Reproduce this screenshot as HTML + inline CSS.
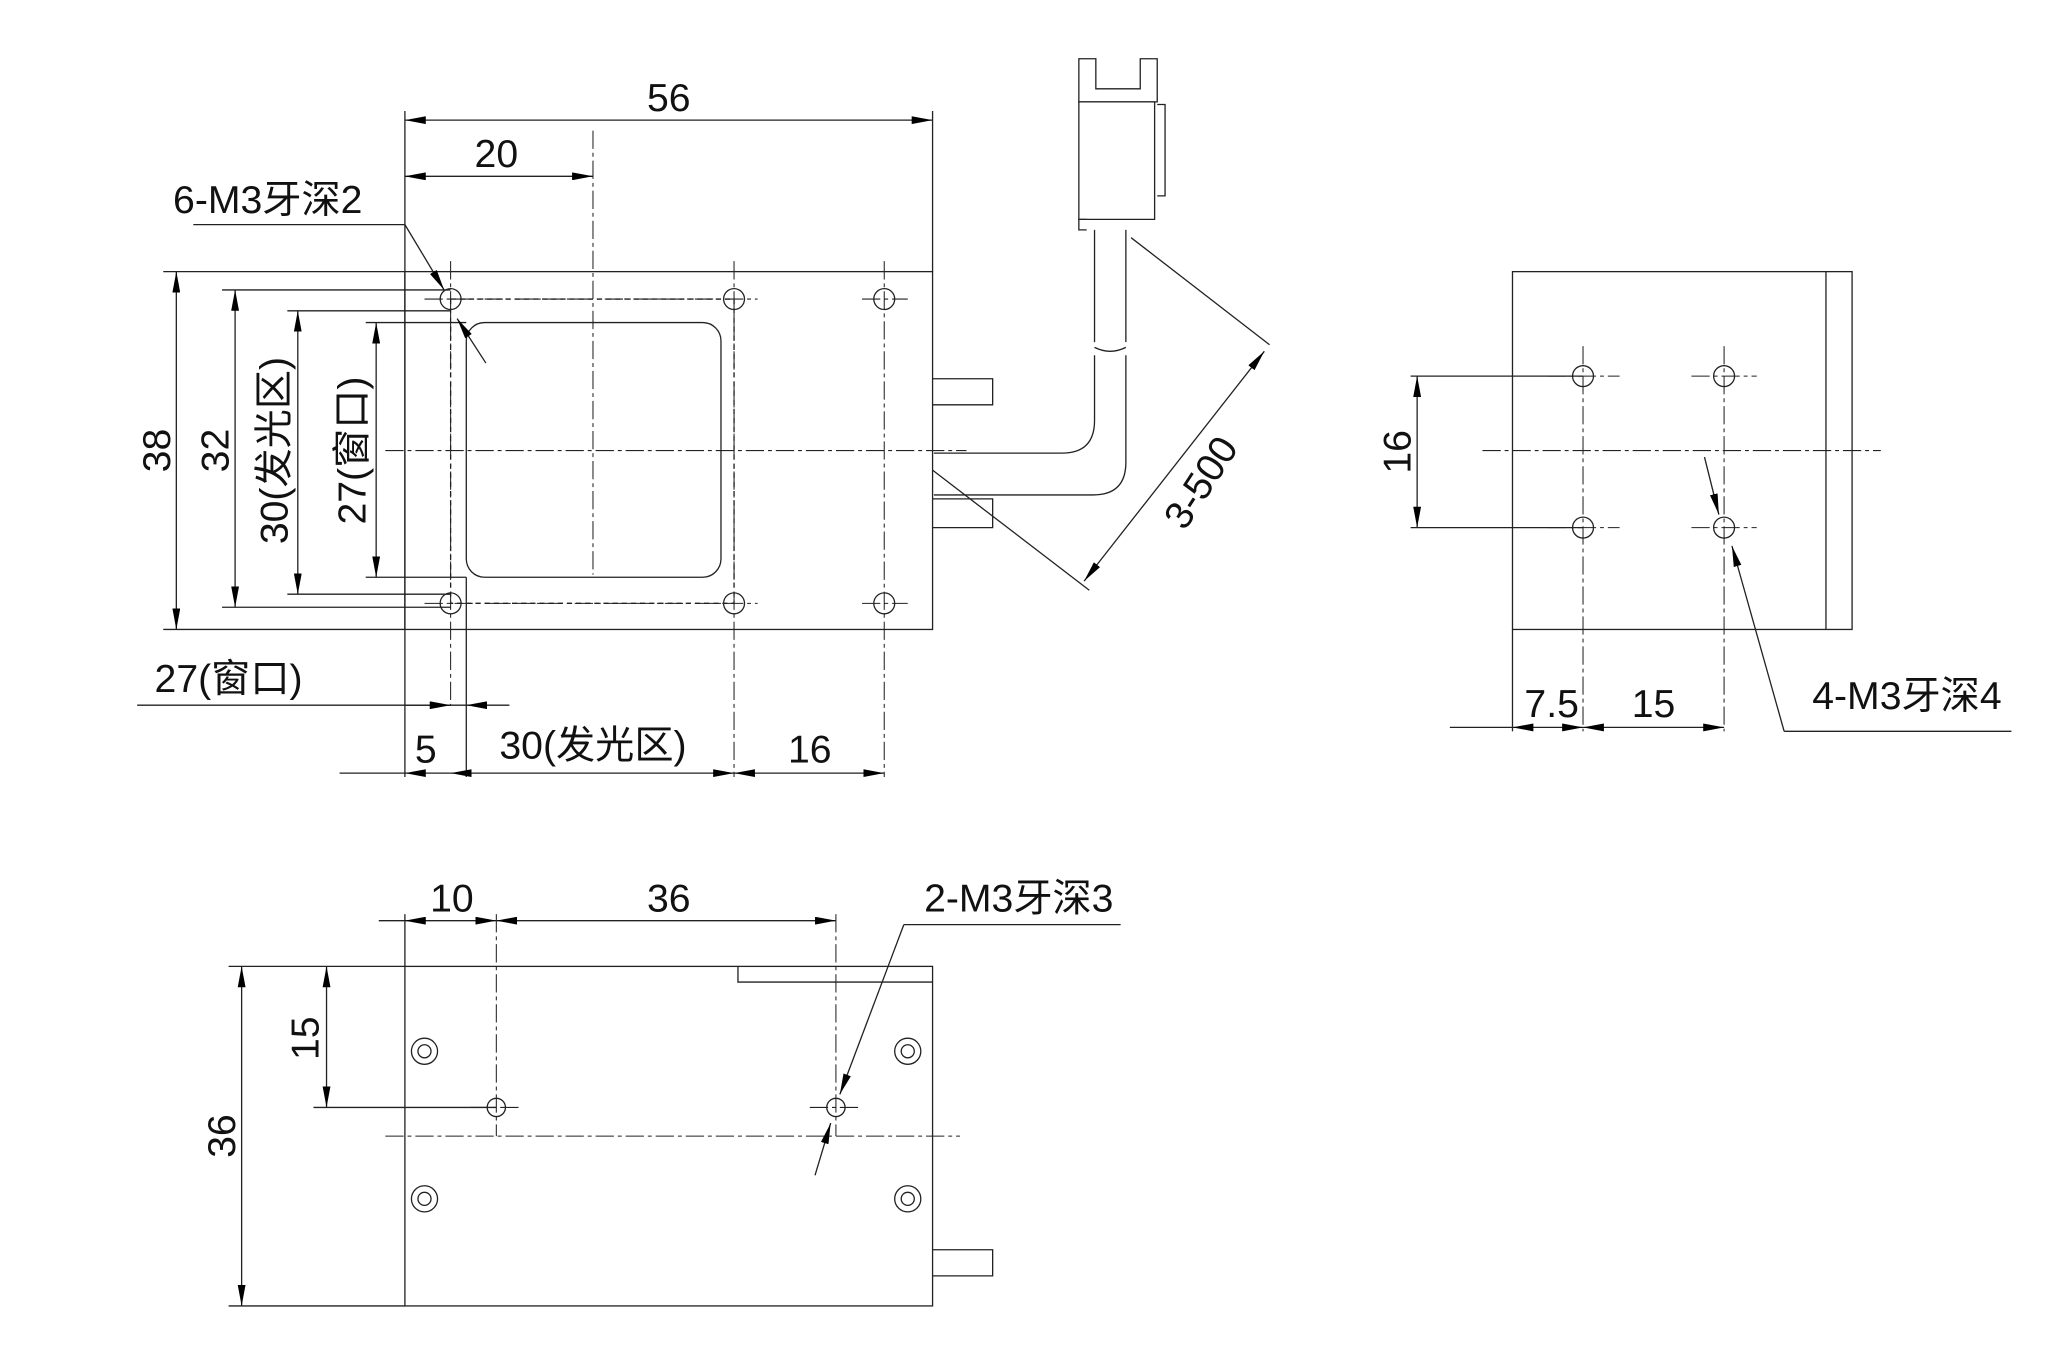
<!DOCTYPE html><html><head><meta charset="utf-8"><style>html,body{margin:0;padding:0;background:#fff}svg{display:block}text{font-family:"Liberation Sans","Noto Sans CJK SC",sans-serif;font-size:30px;fill:#111}</style></head><body>
<svg width="2048" height="1366" viewBox="0 0 1568 1046" preserveAspectRatio="none" xmlns="http://www.w3.org/2000/svg">
<defs><marker id="a" viewBox="0 0 16 6" refX="16" refY="3" markerWidth="16" markerHeight="6" orient="auto-start-reverse" markerUnits="userSpaceOnUse"><path d="M0,0L16,3L0,6z" fill="#000"/></marker></defs>
<g stroke="#222" stroke-width="1" fill="none">
<rect x="310" y="208" width="404" height="274"/>
<rect x="357" y="247" width="195" height="195" rx="14"/>
<rect x="345" y="229" width="217" height="233" stroke-dasharray="4,3"/>
<g>
<circle cx="345" cy="229" r="8"/><circle cx="562" cy="229" r="8"/><circle cx="677" cy="229" r="8"/>
<circle cx="345" cy="462" r="8"/><circle cx="562" cy="462" r="8"/><circle cx="677" cy="462" r="8"/>
</g>
<g stroke-dasharray="14,3,3,3" stroke-width="0.8">
<line x1="295" y1="345" x2="740" y2="345"/>
<line x1="454" y1="100" x2="454" y2="440"/>
<line x1="345" y1="200" x2="345" y2="540"/><line x1="562" y1="200" x2="562" y2="595"/><line x1="677" y1="200" x2="677" y2="595"/>
<line x1="325" y1="229" x2="580" y2="229"/><line x1="660" y1="229" x2="695" y2="229"/>
<line x1="325" y1="462" x2="580" y2="462"/><line x1="660" y1="462" x2="695" y2="462"/>
</g>
<line x1="357" y1="442" x2="357" y2="595"/>
<line x1="310" y1="85" x2="310" y2="595"/><line x1="714" y1="85" x2="714" y2="208"/>
<line x1="125" y1="208" x2="310" y2="208"/><line x1="125" y1="482" x2="310" y2="482"/>
<line x1="170" y1="222" x2="345" y2="222"/><line x1="170" y1="465" x2="345" y2="465"/>
<line x1="220" y1="238" x2="345" y2="238"/><line x1="220" y1="455" x2="345" y2="455"/>
<line x1="280" y1="247" x2="357" y2="247"/><line x1="280" y1="442" x2="357" y2="442"/>
<line x1="310" y1="92" x2="714" y2="92" marker-start="url(#a)" marker-end="url(#a)"/>
<line x1="310" y1="135" x2="454" y2="135" marker-start="url(#a)" marker-end="url(#a)"/>
<line x1="135" y1="208" x2="135" y2="482" marker-start="url(#a)" marker-end="url(#a)"/>
<line x1="180" y1="222" x2="180" y2="465" marker-start="url(#a)" marker-end="url(#a)"/>
<line x1="228" y1="238" x2="228" y2="455" marker-start="url(#a)" marker-end="url(#a)"/>
<line x1="288" y1="247" x2="288" y2="442" marker-start="url(#a)" marker-end="url(#a)"/>
<line x1="105" y1="540" x2="357" y2="540"/>
<line x1="310" y1="540" x2="345" y2="540" marker-end="url(#a)"/>
<line x1="390" y1="540" x2="357" y2="540" marker-end="url(#a)"/>
<line x1="260" y1="592" x2="310" y2="592"/><line x1="310" y1="592" x2="345" y2="592" marker-start="url(#a)"/>
<line x1="345" y1="592" x2="562" y2="592" marker-start="url(#a)" marker-end="url(#a)"/>
<line x1="562" y1="592" x2="677" y2="592" marker-start="url(#a)" marker-end="url(#a)"/>
<line x1="148" y1="172" x2="310" y2="172"/>
<polyline points="310,172 340,222" marker-end="url(#a)"/>
<line x1="372" y1="278" x2="350" y2="244" marker-end="url(#a)"/>
<path d="M826,45 v33 h60 v-33 h-13 v23 h-34 v-23z"/>
<path d="M826,78 h58 v90 h-58z"/><path d="M886,80 h6 v70 h-6"/>
<path d="M832,168 h-6 v8 h6"/>
<path d="M838,176 v86 M862,176 v86 M838,266 q12,6 24,0"/>
<path d="M838,272 v50 q0,25 -25,25 h-98 M862,272 v82 q0,25 -25,25 h-122"/>
<path d="M714,290 h46 v20 h-46 M714,382 h46 v22 h-46"/>
<line x1="866" y1="182" x2="972" y2="264"/><line x1="714" y1="360" x2="834" y2="452"/>
<line x1="968" y1="269" x2="830" y2="445" marker-start="url(#a)" marker-end="url(#a)"/>
<rect x="1158" y="208" width="260" height="274"/><line x1="1398" y1="208" x2="1398" y2="482"/>
<circle cx="1212" cy="288" r="8"/><circle cx="1320" cy="288" r="8"/><circle cx="1212" cy="404" r="8"/><circle cx="1320" cy="404" r="8"/>
<g stroke-dasharray="14,3,3,3" stroke-width="0.8">
<line x1="1135" y1="345" x2="1440" y2="345"/>
<line x1="1185" y1="288" x2="1240" y2="288"/><line x1="1295" y1="288" x2="1345" y2="288"/>
<line x1="1185" y1="404" x2="1240" y2="404"/><line x1="1295" y1="404" x2="1345" y2="404"/>
<line x1="1212" y1="265" x2="1212" y2="560"/><line x1="1320" y1="265" x2="1320" y2="560"/>
</g>
<line x1="1080" y1="288" x2="1212" y2="288"/><line x1="1080" y1="404" x2="1212" y2="404"/>
<line x1="1085" y1="288" x2="1085" y2="404" marker-start="url(#a)" marker-end="url(#a)"/>
<line x1="1158" y1="482" x2="1158" y2="560"/>
<line x1="1110" y1="557" x2="1158" y2="557"/><line x1="1158" y1="557" x2="1212" y2="557" marker-start="url(#a)" marker-end="url(#a)"/>
<line x1="1212" y1="557" x2="1320" y2="557" marker-start="url(#a)" marker-end="url(#a)"/>
<line x1="1305" y1="350" x2="1316" y2="394" marker-end="url(#a)"/>
<polyline points="1366,560 1326,418" marker-end="url(#a)"/><line x1="1366" y1="560" x2="1540" y2="560"/>
<rect x="310" y="740" width="404" height="260"/><path d="M565,740 v12 h149"/>
<g><circle cx="325" cy="805" r="10"/><circle cx="325" cy="805" r="5"/><circle cx="695" cy="805" r="10"/><circle cx="695" cy="805" r="5"/>
<circle cx="325" cy="918" r="10"/><circle cx="325" cy="918" r="5"/><circle cx="695" cy="918" r="10"/><circle cx="695" cy="918" r="5"/>
<circle cx="380" cy="848" r="7"/><circle cx="640" cy="848" r="7"/></g>
<g stroke-dasharray="14,3,3,3" stroke-width="0.8">
<line x1="295" y1="870" x2="735" y2="870"/>
<line x1="380" y1="700" x2="380" y2="870"/><line x1="640" y1="700" x2="640" y2="870"/>
<line x1="360" y1="848" x2="400" y2="848"/><line x1="620" y1="848" x2="660" y2="848"/>
</g>
<path d="M714,957 h46 v20 h-46"/>
<line x1="310" y1="700" x2="310" y2="740"/>
<line x1="290" y1="705" x2="310" y2="705"/><line x1="310" y1="705" x2="380" y2="705" marker-start="url(#a)" marker-end="url(#a)"/>
<line x1="380" y1="705" x2="640" y2="705" marker-start="url(#a)" marker-end="url(#a)"/>
<line x1="175" y1="740" x2="310" y2="740"/><line x1="175" y1="1000" x2="310" y2="1000"/>
<line x1="240" y1="848" x2="380" y2="848"/>
<line x1="250" y1="740" x2="250" y2="848" marker-start="url(#a)" marker-end="url(#a)"/>
<line x1="185" y1="740" x2="185" y2="1000" marker-start="url(#a)" marker-end="url(#a)"/>
<line x1="858" y1="708" x2="692" y2="708"/><polyline points="692,708 643,838" marker-end="url(#a)"/>
<line x1="624" y1="900" x2="636" y2="860" marker-end="url(#a)"/>
</g>
<text x="512" y="85" text-anchor="middle">56</text>
<text x="380" y="128" text-anchor="middle">20</text>
<text x="205" y="163" text-anchor="middle">6-M3牙深2</text>
<text transform="translate(130,345) rotate(-90)" text-anchor="middle">38</text>
<text transform="translate(175,345) rotate(-90)" text-anchor="middle">32</text>
<text transform="translate(220,345) rotate(-90)" text-anchor="middle">30(发光区)</text>
<text transform="translate(280,345) rotate(-90)" text-anchor="middle">27(窗口)</text>
<text x="175" y="530" text-anchor="middle">27(窗口)</text>
<text x="326" y="584" text-anchor="middle">5</text>
<text x="454" y="581" text-anchor="middle">30(发光区)</text>
<text x="620" y="584" text-anchor="middle">16</text>
<text transform="translate(928,375) rotate(-57)" text-anchor="middle">3-500</text>
<text transform="translate(1080,346) rotate(-90)" text-anchor="middle">16</text>
<text x="1188" y="549" text-anchor="middle">7.5</text>
<text x="1266" y="549" text-anchor="middle">15</text>
<text x="1460" y="543" text-anchor="middle">4-M3牙深4</text>
<text x="346" y="698" text-anchor="middle">10</text>
<text x="512" y="698" text-anchor="middle">36</text>
<text x="780" y="698" text-anchor="middle">2-M3牙深3</text>
<text transform="translate(244,795) rotate(-90)" text-anchor="middle">15</text>
<text transform="translate(180,870) rotate(-90)" text-anchor="middle">36</text>
</svg></body></html>
